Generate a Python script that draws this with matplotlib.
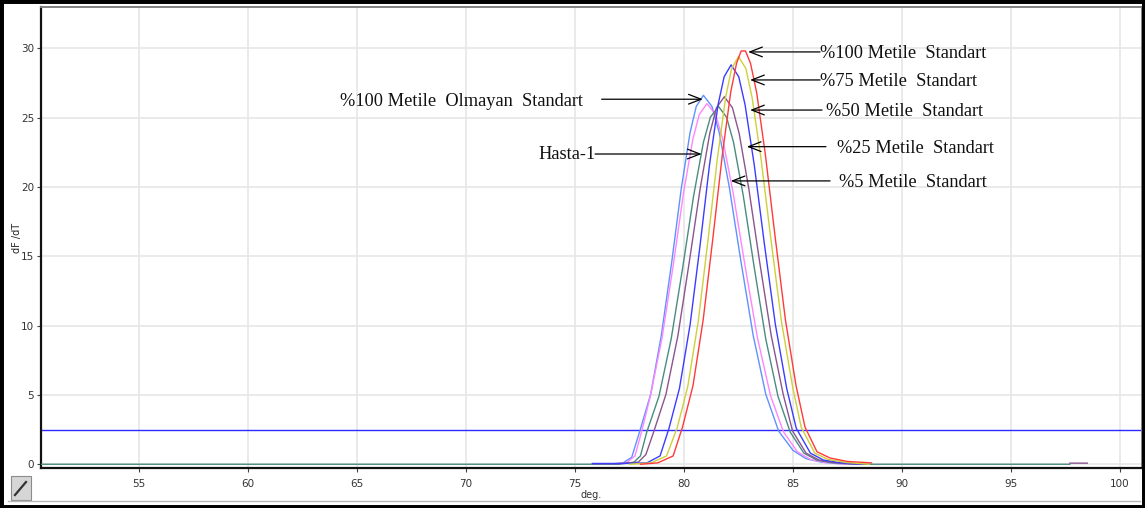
import numpy as np
import matplotlib
matplotlib.use("Agg")
import matplotlib.pyplot as plt
from matplotlib.patches import Rectangle
from matplotlib.lines import Line2D

# ---------------- data ----------------
x_ticks = [55, 60, 65, 70, 75, 80, 85, 90, 95, 100]
y_ticks = [0, 5, 10, 15, 20, 25, 30]
threshold = 2.5

t_unmeth = [76.5, 77.2, 77.6, 77.97, 78.47, 78.96, 79.44, 79.88, 80.28, 80.56, 80.89, 81.28,
            81.61, 82.08, 82.61, 83.17, 83.75, 84.34, 85.0, 85.6, 86.3, 87.0, 88.0]
y_unmeth = [0.0, 0.1, 0.5, 2.39, 5.05, 9.31, 14.63, 19.95, 23.94, 25.80, 26.6, 25.80,
            23.94, 19.95, 14.63, 9.31, 5.05, 2.39, 1.0, 0.4, 0.15, 0.05, 0.0]

t_m5 = [76.8, 77.4, 77.75, 78.05, 78.46, 78.99, 79.50, 79.97, 80.40, 80.70, 81.05, 81.45,
        81.78, 82.26, 82.80, 83.37, 83.97, 84.56, 85.2, 85.8, 86.5, 87.5]
y_m5 = [0.0, 0.15, 0.6, 2.34, 4.94, 9.1, 14.3, 19.5, 23.4, 25.22, 26.0, 25.22,
        23.4, 19.5, 14.3, 9.1, 4.94, 2.34, 0.9, 0.35, 0.12, 0.0]

t_hasta = [50.5, 77.0, 77.7, 78.0, 78.29, 78.85, 79.41, 79.94, 80.44, 80.89, 81.21, 81.58,
           81.95, 82.27, 82.72, 83.22, 83.75, 84.31, 84.87, 85.5, 86.1, 86.8, 88.0, 97.7]
y_hasta = [0.0, 0.0, 0.15, 0.6, 2.32, 4.90, 9.03, 14.19, 19.35, 23.22, 25.03, 25.8,
           25.03, 23.22, 19.35, 14.19, 9.03, 4.90, 2.32, 0.8, 0.3, 0.1, 0.0, 0.0]

t_m25 = [75.8, 77.0, 77.9, 78.25, 78.62, 79.17, 79.72, 80.24, 80.74, 81.18, 81.49, 81.85,
         82.22, 82.53, 82.97, 83.47, 84.00, 84.55, 84.98, 85.6, 86.2, 87.0, 88.0, np.nan, 97.7, 98.5]
y_m25 = [0.05, 0.05, 0.15, 0.7, 2.39, 5.04, 9.28, 14.58, 19.88, 23.85, 25.71, 26.5,
         25.71, 23.85, 19.88, 14.58, 9.28, 5.04, 2.39, 0.8, 0.3, 0.1, 0.0, np.nan, 0.08, 0.08]

t_m50 = [75.8, 77.0, 78.3, 78.9, 79.31, 79.79, 80.28, 80.74, 81.17, 81.56, 81.84, 82.16,
         82.51, 82.80, 83.22, 83.69, 84.19, 84.71, 85.15, 85.8, 86.4, 87.2, 88.2]
y_m50 = [0.05, 0.05, 0.1, 0.6, 2.59, 5.47, 10.08, 15.84, 21.6, 25.92, 27.94, 28.8,
         27.94, 25.92, 21.6, 15.84, 10.08, 5.47, 2.59, 0.8, 0.3, 0.1, 0.0]

t_m75 = [77.5, 78.5, 79.2, 79.69, 80.17, 80.65, 81.10, 81.53, 81.91, 82.18, 82.5, 82.84,
         83.12, 83.53, 83.99, 84.47, 84.98, 85.38, 86.0, 86.6, 87.5, 88.5]
y_m75 = [0.0, 0.1, 0.6, 2.65, 5.59, 10.29, 16.17, 22.05, 26.46, 28.52, 29.4, 28.52,
         26.46, 22.05, 16.17, 10.29, 5.59, 2.65, 0.8, 0.35, 0.12, 0.0]

t_m100 = [78.0, 78.8, 79.5, 79.93, 80.41, 80.88, 81.33, 81.76, 82.14, 82.41, 82.62, 82.82,
          83.05, 83.33, 83.73, 84.18, 84.65, 85.14, 85.55, 86.1, 86.7, 87.5, 88.6]
y_m100 = [0.0, 0.1, 0.6, 2.68, 5.66, 10.43, 16.39, 22.35, 26.82, 28.91, 29.8, 29.8,
          28.91, 26.82, 22.35, 16.39, 10.43, 5.66, 2.68, 0.9, 0.45, 0.2, 0.1]

series = [
    (t_unmeth, y_unmeth, "#5e92ff"),
    (t_m5, y_m5, "#ff85ff"),
    (t_hasta, y_hasta, "#4a8c80"),
    (t_m25, y_m25, "#8a5590"),
    (t_m50, y_m50, "#3c3cff"),
    (t_m75, y_m75, "#cfcf3a"),
    (t_m100, y_m100, "#ff3a3a"),
]

# annotations: label, arrow tip (x, y), arrow tail x, text x, text y, alignment
ann_labels = ["%100 Metile  Standart", "%75 Metile  Standart", "%50 Metile  Standart",
              "%25 Metile  Standart", "%5 Metile  Standart",
              "%100 Metile  Olmayan  Standart", "Hasta-1"]
ann_tip_x = [82.94, 83.03, 83.03, 82.88, 82.14, 80.86, 80.81]
ann_tip_y = [29.73, 27.71, 25.54, 22.90, 20.43, 26.32, 22.37]
ann_tail_x = [86.24, 86.24, 86.33, 86.51, 86.70, 76.22, 75.92]
ann_text_x = [86.24, 86.24, 86.51, 87.00, 87.11, 75.37, 75.92]
ann_text_y = [29.60, 27.58, 25.41, 22.77, 20.30, 26.19, 22.34]
ann_ha = ["left", "left", "left", "left", "left", "right", "right"]

# ---------------- figure ----------------
W, H = 1145, 508
fig = plt.figure(figsize=(W / 100, H / 100), dpi=100)
fig.patch.set_facecolor("white")

ax = fig.add_axes([41 / W, 1 - 468 / H, (1142 - 41) / W, (468 - 7) / H])
ax.set_xlim(50.5, 101.01)
ax.set_ylim(-0.27, 32.97)

ax.set_xticks(x_ticks)
ax.set_yticks(y_ticks)
ax.grid(True, color="#e6e6e6", lw=1.2)
ax.set_axisbelow(True)
ax.tick_params(axis="both", labelsize=7.5, colors="#444444", length=3, width=0.8)
ax.tick_params(axis="x", pad=5)
ax.tick_params(axis="y", pad=2)
for lab in ax.get_xticklabels() + ax.get_yticklabels():
    lab.set_color("#333333")

for side in ["left", "bottom"]:
    ax.spines[side].set_color("#111111")
    ax.spines[side].set_linewidth(1.6)
for side in ["top", "right"]:
    ax.spines[side].set_color("#808080")
    ax.spines[side].set_linewidth(1.4)

ax.axhline(threshold, color="#2a2aff", lw=1.0, zorder=2)

for t, y, c in series:
    ax.plot(t, y, color=c, lw=1.0, zorder=3)

ax.set_ylabel("dF /dT", fontsize=7, color="#222222")
ax.yaxis.set_label_coords(-0.0175, 0.5)

for lab, tx, ty, tlx, txx, tyy, ha in zip(ann_labels, ann_tip_x, ann_tip_y, ann_tail_x,
                                         ann_text_x, ann_text_y, ann_ha):
    ax.annotate("", xy=(tx, ty), xytext=(tlx, ty),
                arrowprops=dict(arrowstyle="->,head_length=0.9,head_width=0.35",
                                color="black", lw=0.9, shrinkA=0, shrinkB=0),
                zorder=5)
    ax.text(txx, tyy, lab, ha=ha, va="center", fontsize=13.2,
            family=["Liberation Serif", "DejaVu Serif"], color="#111111", zorder=6)

fig.text(591 / W, 1 - 495 / H, "deg.", fontsize=7, color="#333333",
         ha="center", va="center")

# window frame decorations
fig.add_artist(Line2D([8 / W, 1140 / W], [1 - 500.5 / H, 1 - 500.5 / H],
                      color="#b8b8b8", lw=1.0, transform=fig.transFigure))
fig.add_artist(Rectangle((0, 0), 1, 1, fill=False, edgecolor="black", lw=5,
                         transform=fig.transFigure))
fig.add_artist(Rectangle((11 / W, 1 - 500 / H), 20 / W, 24 / H, facecolor="#d6d6d6",
                         edgecolor="#8c8c8c", lw=0.8, transform=fig.transFigure))
fig.add_artist(Line2D([15 / W, 26 / W], [1 - 495 / H, 1 - 482 / H], color="#333333",
                      lw=1.6, transform=fig.transFigure))

fig.savefig("out.png", dpi=100)
